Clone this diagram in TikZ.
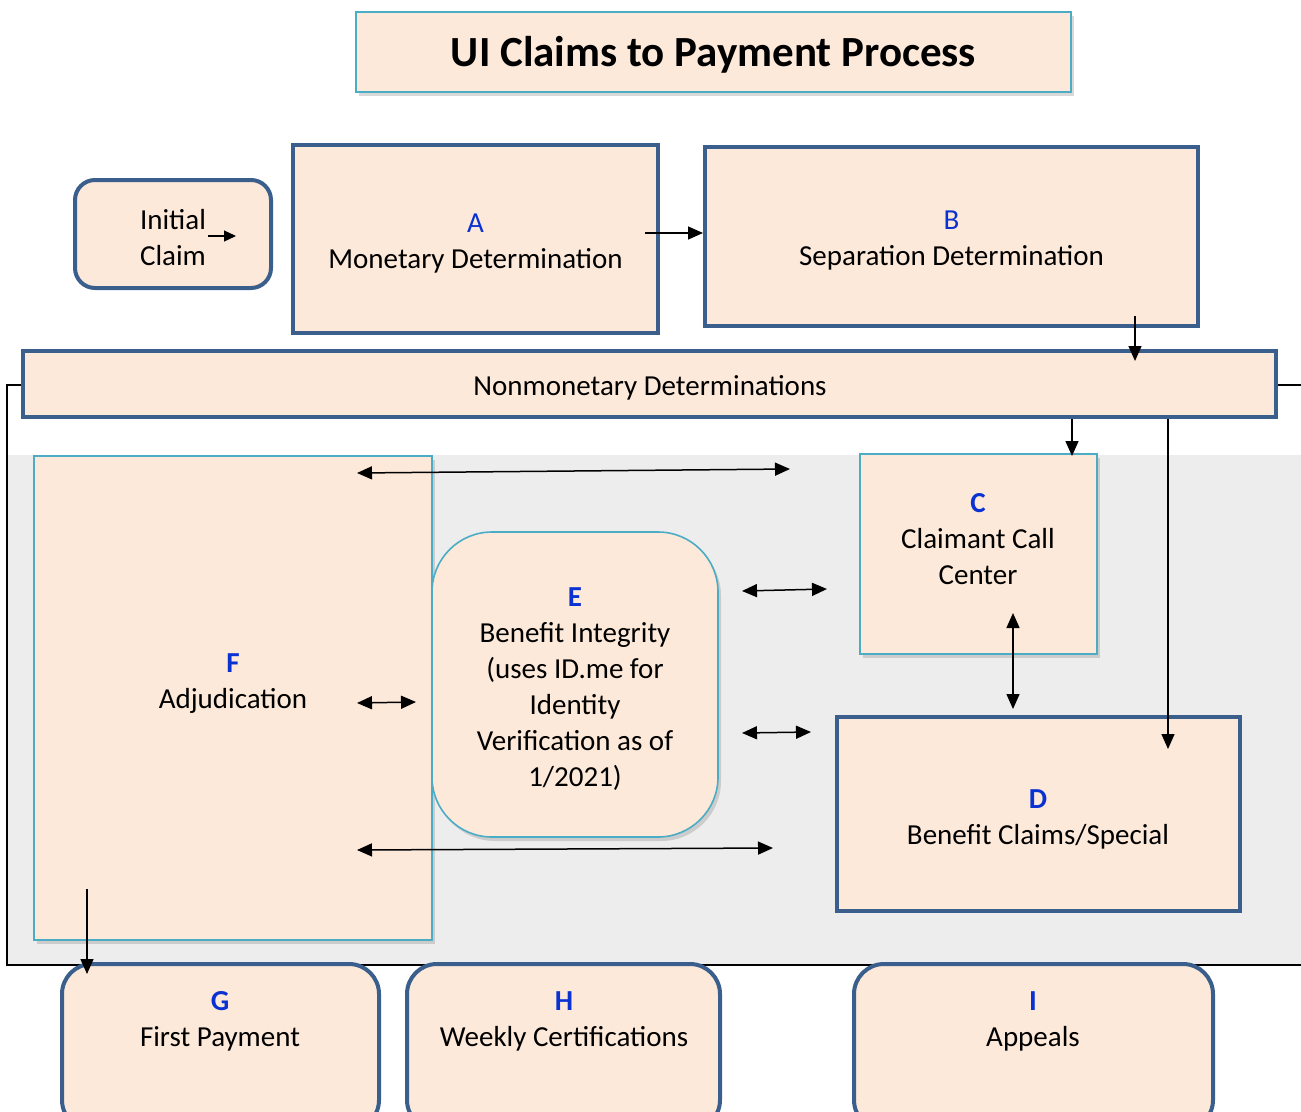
\documentclass[tikz,border=0pt]{standalone}
\usepackage{fontspec}
\setmainfont{Carlito}
\usetikzlibrary{arrows.meta}
\usetikzlibrary{shadows}
\definecolor{peach}{HTML}{FDE9D9}
\definecolor{darkframe}{HTML}{3A5F8C}
\definecolor{tealframe}{HTML}{4BACC6}
\definecolor{letterblue}{HTML}{0A32D2}
\definecolor{panelgray}{HTML}{EDEDED}
\tikzset{
    bluebox/.style={draw=darkframe, line width=4pt, fill=peach, inner sep=0pt},
    tealbox/.style={draw=tealframe, line width=1.6pt, fill=peach, inner sep=0pt,
        drop shadow={opacity=0.3, shadow xshift=3pt, shadow yshift=-4pt}},
    boxtext/.style={align=center, font=\fontsize{29}{36}\selectfont, inner sep=0pt},
    flow/.style={line width=1.5pt, -{Triangle[length=15pt,width=13pt]}},
    twoway/.style={line width=1.5pt, {Triangle[length=15pt,width=13pt]}-{Triangle[length=15pt,width=13pt]}},
}
\newcommand{\plainletter}[1]{\textcolor{letterblue}{#1}}
\newcommand{\boldletter}[1]{\textcolor{letterblue}{\bfseries #1}}
\begin{document}
\begin{tikzpicture}[x=1pt,y=-1pt]
        \newcommand{\uirowtop}{1047}
        \newcommand{\uirowtext}{1021}
        \useasboundingbox (0,0) rectangle (1301,1111);
        % gray panel and its frame
        \fill[panelgray] (7,455) rectangle (1330,965);
        \draw[line width=2pt] (7,385) rectangle (1330,965);
        % title
        \node[tealbox, minimum width=715, minimum height=80] (title) at (713.5,52) {};
        \node[inner sep=0pt] (titletxt) at (713.5,55)
            {\fontsize{43}{50}\selectfont\bfseries UI Claims to Payment Process};
        % top row
        \node[bluebox, rounded corners=20pt, minimum width=196, minimum height=108] (init) at (173,234) {};
        \node[boxtext] (inittxt) at (173,238) {Initial\\Claim};
        \node[bluebox, minimum width=365, minimum height=188] (mondet) at (475.5,239) {};
        \node[boxtext] (mondettxt) at (475.5,244) {\plainletter{A}\\Monetary Determination};
        \node[bluebox, minimum width=493, minimum height=179] (sepdet) at (951.5,236.5) {};
        \node[boxtext] (sepdettxt) at (951.5,241) {\plainletter{B}\\Separation Determination};
        \node[bluebox, minimum width=1253, minimum height=66] (nonmon) at (649.5,384) {};
        \node[boxtext] (nonmontxt) at (650,388) {Nonmonetary Determinations};
        % panel boxes
        \node[tealbox, minimum width=398, minimum height=484] (adjud) at (233,698) {};
        \node[boxtext] (adjudtxt) at (233,684) {\boldletter{F}\\Adjudication};
        \node[tealbox, rounded corners=60pt, minimum width=286, minimum height=305] (integ) at (575,684.5) {};
        \node[boxtext] (integtxt) at (575,689)
            {\boldletter{E}\\Benefit Integrity\\(uses ID.me for\\Identity\\Verification as of\\1/2021)};
        \node[tealbox, minimum width=237, minimum height=200] (callctr) at (978.5,554) {};
        \node[boxtext] (callctrtxt) at (978,539) {\boldletter{C}\\Claimant Call\\Center};
        \node[bluebox, minimum width=403, minimum height=194] (special) at (1038.5,814) {};
        \node[boxtext] (specialtxt) at (1038,819) {\boldletter{D}\\Benefit Claims/Special};
        % bottom row
        \node[bluebox, rounded corners=30pt, minimum width=317, minimum height=166] (firstpay) at (220.5,\uirowtop) {};
        \node[boxtext] (firstpaytxt) at (220,\uirowtext) {\boldletter{G}\\First Payment};
        \node[bluebox, rounded corners=30pt, minimum width=313, minimum height=166] (weekly) at (563.5,\uirowtop) {};
        \node[boxtext] (weeklytxt) at (564,\uirowtext) {\boldletter{H}\\Weekly Certifications};
        \node[bluebox, rounded corners=30pt, minimum width=359, minimum height=166] (appeals) at (1033.5,\uirowtop) {};
        \node[boxtext] (appealstxt) at (1033,\uirowtext) {\boldletter{I}\\Appeals};
        % arrow ends
        \coordinate (initstart) at (208,236);
        \coordinate (initend) at (236,236);
        \coordinate (abstart) at (645,233);
        \coordinate (bnstart) at (1135,316);
        \coordinate (bnend) at (1135,361);
        \coordinate (ncstart) at (1072,419);
        \coordinate (ncend) at (1072,456);
        \coordinate (ndstart) at (1168,419);
        \coordinate (ndend) at (1168,749);
        \coordinate (fctop) at (357,473);
        \coordinate (fcend) at (790,469);
        \coordinate (ecleft) at (742,591);
        \coordinate (ecright) at (827,589);
        \coordinate (feleft) at (357,703);
        \coordinate (feright) at (416,702);
        \coordinate (edleft) at (742,733);
        \coordinate (edright) at (811,732);
        \coordinate (fdleft) at (357,850);
        \coordinate (fdright) at (773,848);
        \coordinate (cdtop) at (1013,613);
        \coordinate (cdbottom) at (1013,709);
        \coordinate (fgstart) at (87,889);
        \coordinate (fgend) at (87,974);
        % connectors
        \draw[line width=1.3pt, -{Triangle[length=12pt,width=11pt]}] (initstart) -- (initend);
        \draw[flow] (abstart) -- (sepdet.west |- abstart);
        \draw[flow] (bnstart) -- (bnend);
        \draw[flow] (ncstart) -- (ncend);
        \draw[flow] (ndstart) -- (ndend);
        \draw[twoway] (fctop) -- (fcend);
        \draw[twoway] (ecleft) -- (ecright);
        \draw[twoway] (feleft) -- (feright);
        \draw[twoway] (edleft) -- (edright);
        \draw[twoway] (fdleft) -- (fdright);
        \draw[twoway] (cdtop) -- (cdbottom);
        \draw[flow] (fgstart) -- (fgend);
\end{tikzpicture}
\end{document}
